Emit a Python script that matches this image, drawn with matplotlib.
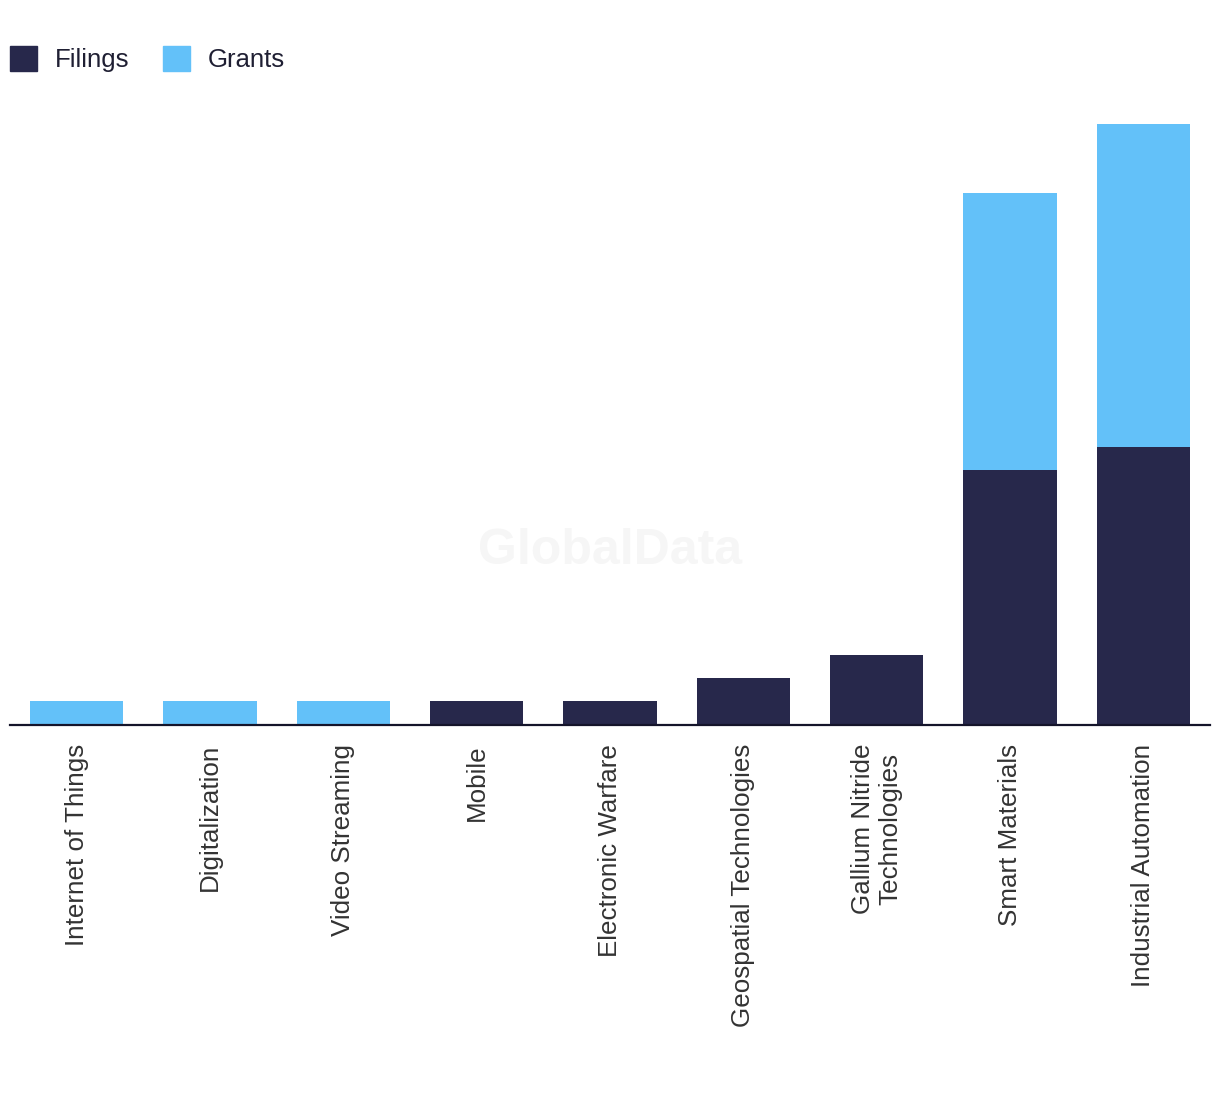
import matplotlib.pyplot as plt
from matplotlib.patches import Patch

# data
categories = ["Internet of Things", "Digitalization", "Video Streaming", "Mobile",
              "Electronic Warfare", "Geospatial Technologies",
              "Gallium Nitride\nTechnologies", "Smart Materials", "Industrial Automation"]
filings = [0, 0, 0, 1, 1, 2, 3, 11, 12]
grants = [1, 1, 1, 0, 0, 0, 0, 12, 14]

filing_color = "#27284B"
grant_color = "#63C1F9"

plt.rcParams["font.family"] = ["Liberation Sans", "DejaVu Sans"]

fig = plt.figure(figsize=(12.2, 10.94), dpi=100)
W, H = 1220, 1094
ax = fig.add_axes([10 / W, 1 - 724.5 / H, 1200 / W, 600.5 / H])

x = list(range(len(categories)))
ax.bar(x, filings, width=0.7, color=filing_color, zorder=2)
ax.bar(x, grants, width=0.7, bottom=filings, color=grant_color, zorder=2)

ax.set_xlim(-0.5, 8.5)
ax.set_ylim(0, 26)
ax.set_xticks(x)
ax.set_xticklabels(categories, rotation=90, fontsize=18.7, color="#333333",
                   va="top", ha="center", linespacing=1.15)
ax.tick_params(axis="x", length=0, pad=14)
ax.set_yticks([])
for side in ["top", "right", "left"]:
    ax.spines[side].set_visible(False)
ax.spines["bottom"].set_color("#14142a")
ax.spines["bottom"].set_linewidth(1.6)
ax.spines["bottom"].set_zorder(3)

# watermark
fig.text(610 / W, 1 - 551 / H, "GlobalData", fontsize=36, fontweight="bold",
         color="#f6f6f6", ha="center", va="center", zorder=0)

# legend
handles = [Patch(color=filing_color, label="Filings"),
           Patch(color=grant_color, label="Grants")]
fig.legend(handles=handles, loc="upper left", bbox_to_anchor=(10 / W, 1 - 46 / H),
           ncol=2, frameon=False, fontsize=18.5, handlelength=1.05, handleheight=1.1,
           handletextpad=0.7, columnspacing=1.3, borderpad=0, borderaxespad=0,
           labelcolor="#1f1f33")

plt.savefig("out.png", dpi=100)
